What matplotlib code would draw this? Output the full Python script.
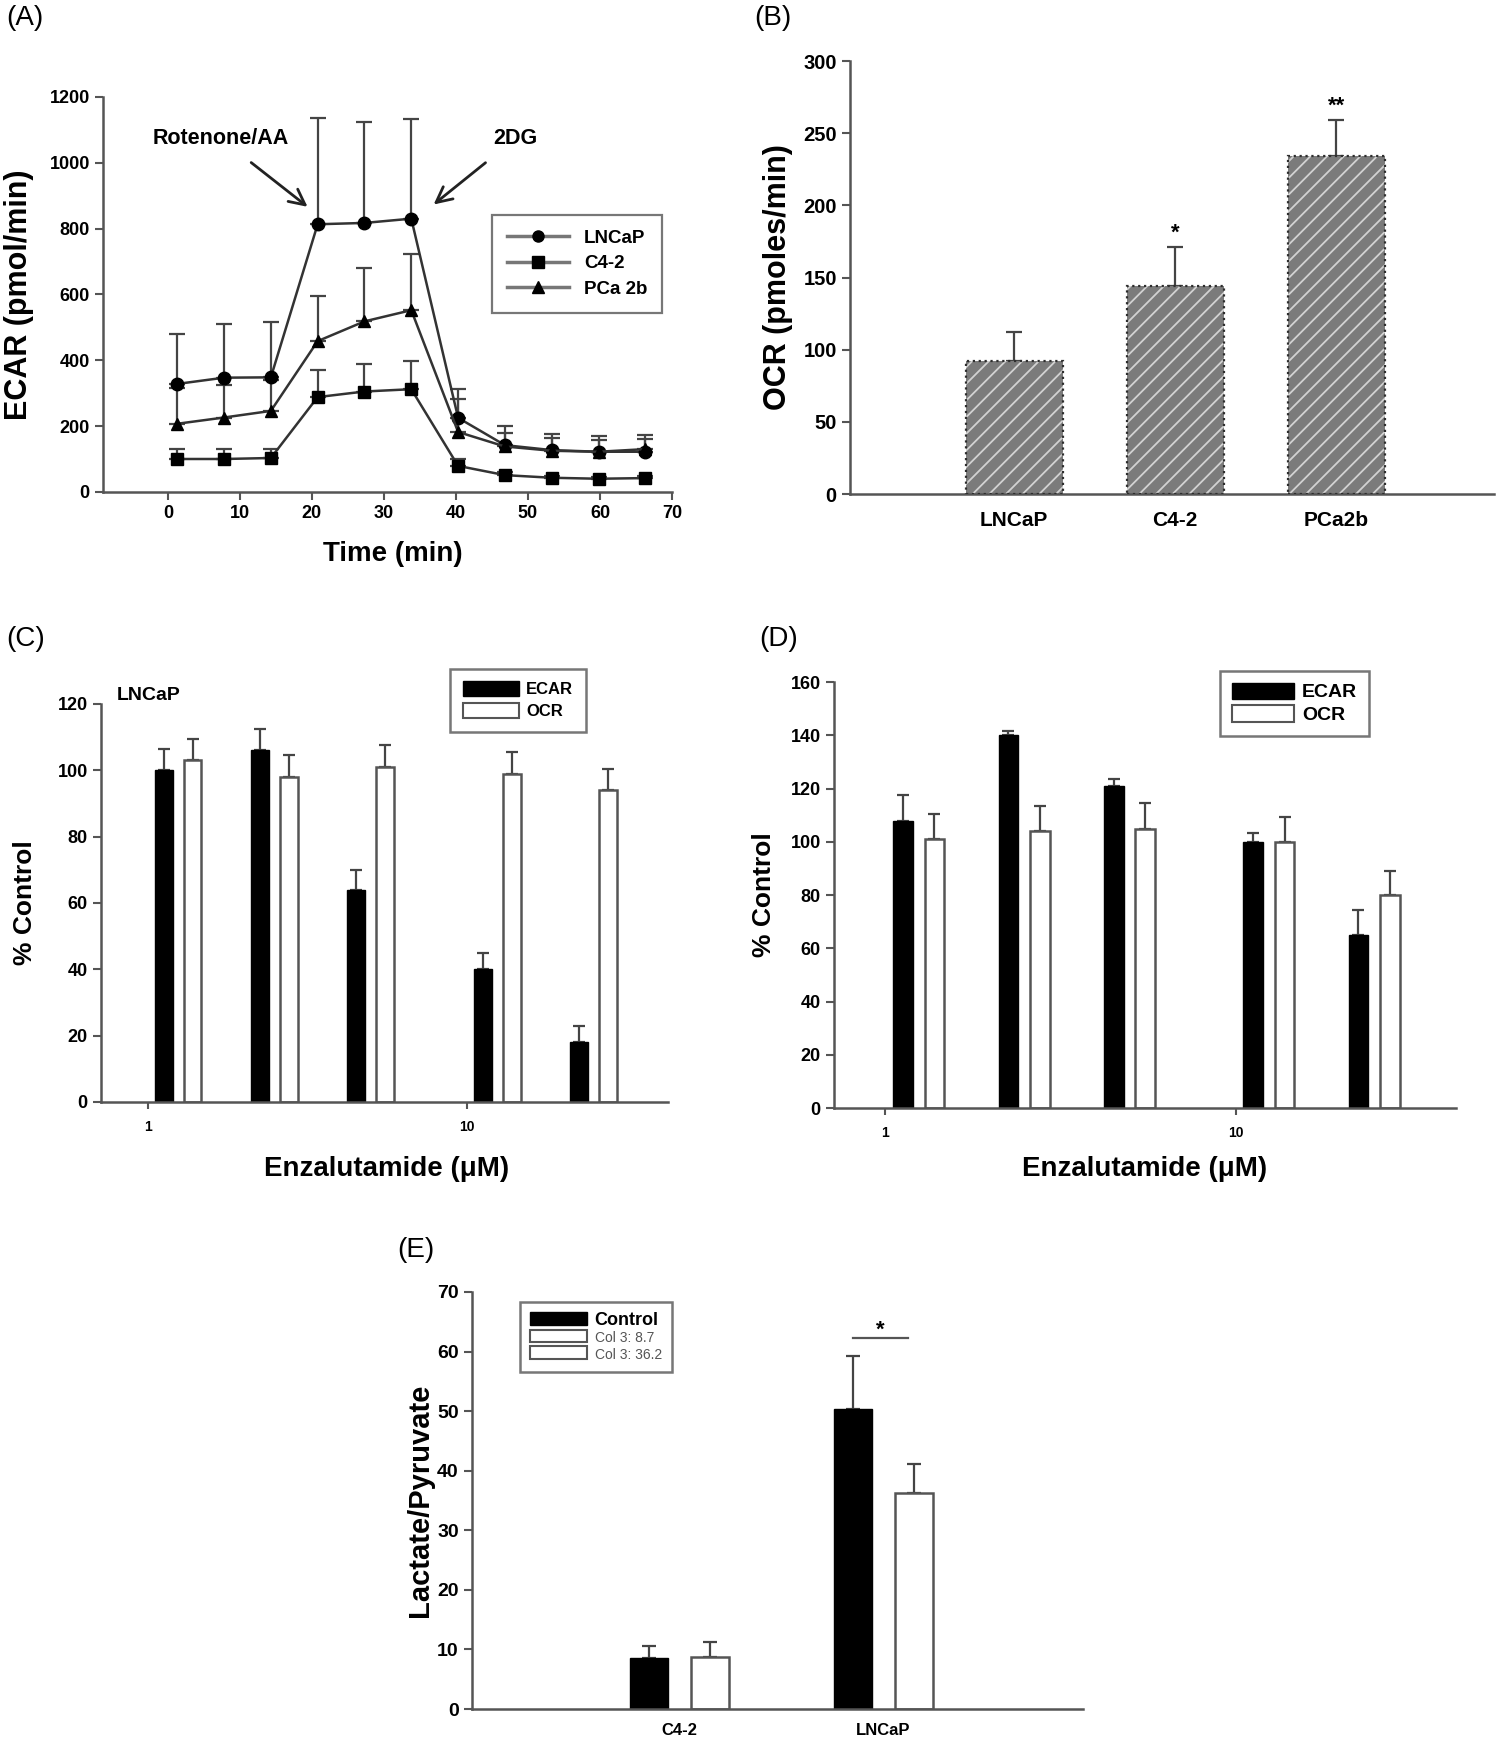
import numpy as np
import matplotlib
matplotlib.use('Agg')
import matplotlib.pyplot as plt
from matplotlib.patches import Patch
from matplotlib.lines import Line2D
from matplotlib.ticker import FixedLocator, NullLocator, FixedFormatter

plt.rcParams['font.family'] = ['Liberation Sans', 'DejaVu Sans']
plt.rcParams['font.weight'] = 'bold'
plt.rcParams['axes.labelweight'] = 'bold'
plt.rcParams['hatch.linewidth'] = 1.3

# ---- (A) ECAR time course ----
time_min = [1.3, 7.8, 14.3, 20.8, 27.3, 33.8, 40.3, 46.8, 53.3, 59.8, 66.3]
ecar_lncap = [328, 347, 348, 813, 817, 830, 225, 142, 127, 122, 122]
ecar_lncap_err = [152, 163, 167, 324, 306, 302, 87, 58, 50, 47, 50]
ecar_c42 = [100, 100, 103, 288, 305, 312, 79, 51, 43, 40, 42]
ecar_c42_err = [30, 30, 28, 82, 83, 87, 22, 8, 6, 6, 6]
ecar_pca = [207, 226, 246, 458, 518, 552, 182, 138, 125, 122, 130]
ecar_pca_err = [110, 100, 95, 137, 162, 170, 100, 40, 40, 35, 32]
a_series = ['LNCaP', 'C4-2', 'PCa 2b']

# ---- (B) OCR ----
ocr_lines = ['LNCaP', 'C4-2', 'PCa2b']
ocr_vals = [92, 144, 234]
ocr_err = [20, 27, 25]
ocr_sig = ['', '*', '**']

# ---- (C)/(D) enzalutamide dose ----
doses = [1, 2, 4, 10, 20]
c_ecar = [100, 106, 64, 40, 18]
c_ecar_err = [6.5, 6.5, 6, 5, 5]
c_ocr = [103, 98, 101, 99, 94]
c_ocr_err = [6.5, 6.5, 6.5, 6.5, 6.5]
d_ecar = [108, 140, 121, 100, 65]
d_ecar_err = [9.5, 1.5, 2.5, 3.5, 9.5]
d_ocr = [101, 104, 105, 100, 80]
d_ocr_err = [9.5, 9.5, 9.5, 9.5, 9]

# ---- (E) lactate / pyruvate ----
e_groups = ['C4-2', 'LNCaP']
e_control = [8.5, 50.3]
e_control_err = [2.0, 9.0]
e_treated = [8.7, 36.2]
e_treated_err = [2.6, 4.9]
e_legend = ['Control', 'Col 3: 8.7', 'Col 3: 36.2']

SPINE = '#555555'
ERR = '#444444'


def style_axes(ax, xticks=True):
    for s in ['top', 'right']:
        ax.spines[s].set_visible(False)
    for s in ['left', 'bottom']:
        ax.spines[s].set_color(SPINE)
        ax.spines[s].set_linewidth(1.8)
    ax.tick_params(axis='both', direction='out', color=SPINE, width=1.5, length=6)
    if not xticks:
        ax.tick_params(axis='x', length=0)


def up_err(ax, x, y, e, cap=5):
    ax.errorbar(x, y, yerr=[np.zeros(len(e)), e], fmt='none', ecolor=ERR,
                elinewidth=1.6, capsize=cap, capthick=1.6, zorder=1)


fig = plt.figure(figsize=(15, 17.45), dpi=100)

# ================= (A) =================
axA = fig.add_axes([0.0687, 0.7181, 0.3793, 0.2264])
style_axes(axA)
markers = ['o', 's', '^']
ys = [ecar_lncap, ecar_c42, ecar_pca]
errs = [ecar_lncap_err, ecar_c42_err, ecar_pca_err]
handles = []
for name, y, e, m in zip(a_series, ys, errs, markers):
    up_err(axA, time_min, y, e, cap=6)
    axA.plot(time_min, y, color='#333333', lw=1.8, marker=m, ms=9,
             mfc='black', mec='black', zorder=3)
    handles.append(Line2D([], [], color='#777777', lw=2.5, marker=m, ms=8,
                          mfc='black', mec='black', label=name))
axA.set_xlim(-9, 70)
axA.set_ylim(0, 1200)
axA.set_xticks(np.arange(0, 71, 10))
axA.set_yticks(np.arange(0, 1201, 200))
axA.tick_params(labelsize=13)
axA.set_ylabel('ECAR (pmol/min)', fontsize=22)
axA.yaxis.set_label_coords(-0.122, 0.5)
axA.set_xlabel('Time (min)', fontsize=20)
axA.xaxis.set_label_coords(0.51, -0.125)
leg = axA.legend(handles=handles, loc='upper left', bbox_to_anchor=(0.684, 0.702),
                 borderaxespad=0, fancybox=False, edgecolor=SPINE, fontsize=13.5,
                 handlelength=3.3, labelspacing=0.45, borderpad=0.8)
leg.get_frame().set_linewidth(1.6)
axA.annotate('Rotenone/AA', xy=(19.4, 866), xytext=(7.4, 1072), fontsize=15.5,
             ha='center', va='center',
             arrowprops=dict(arrowstyle='->', lw=2, color='#222222',
                             mutation_scale=28, shrinkA=12, shrinkB=0))
axA.annotate('2DG', xy=(36.9, 873), xytext=(48.2, 1072), fontsize=15.5,
             ha='center', va='center',
             arrowprops=dict(arrowstyle='->', lw=2, color='#222222',
                             mutation_scale=28, shrinkA=12, shrinkB=0))

# ================= (B) =================
axB = fig.add_axes([0.5667, 0.7169, 0.4293, 0.2481])
style_axes(axB, xticks=False)
xb = np.arange(len(ocr_lines))
axB.bar(xb, ocr_vals, 0.6, color='#7b7b7b', edgecolor='#d2d2d2', hatch='//',
        linewidth=0, zorder=2)
axB.bar(xb, ocr_vals, 0.6, fill=False, edgecolor='#2e2e2e', linewidth=1.6,
        linestyle=':', zorder=3)
up_err(axB, xb, ocr_vals, ocr_err, cap=6)
for xi, v, e, s in zip(xb, ocr_vals, ocr_err, ocr_sig):
    if s:
        axB.text(xi, v + e + 10, s, ha='center', va='center', fontsize=16)
axB.set_xlim(-1.02, 2.98)
axB.set_ylim(0, 300)
axB.set_yticks(np.arange(0, 301, 50))
axB.set_xticks(xb)
axB.set_xticklabels(ocr_lines)
axB.tick_params(axis='y', labelsize=14.5)
axB.tick_params(axis='x', labelsize=15, pad=12)
axB.set_ylabel('OCR (pmoles/min)', fontsize=22)
axB.yaxis.set_label_coords(-0.089, 0.5)


# ================= (C)/(D) =================
def dose_panel(ax, ecar, ecar_err, ocr, ocr_err):
    style_axes(ax)
    d = np.array(doses, dtype=float)
    l1, r1 = d * 10 ** 0.022, d * 10 ** 0.078
    l2, r2 = d * 10 ** 0.112, d * 10 ** 0.168
    ax.bar(l1, ecar, r1 - l1, align='edge', color='black', edgecolor='black',
           linewidth=1, zorder=2)
    ax.bar(l2, ocr, r2 - l2, align='edge', color='white', edgecolor='#555555',
           linewidth=1.8, zorder=2)
    up_err(ax, np.sqrt(l1 * r1), ecar, ecar_err, cap=4.5)
    up_err(ax, np.sqrt(l2 * r2), ocr, ocr_err, cap=4.5)
    ax.set_xscale('log')
    ax.set_xlim(10 ** -0.147, 10 ** 1.63)
    ax.xaxis.set_major_locator(FixedLocator([1, 10]))
    ax.xaxis.set_major_formatter(FixedFormatter(['1', '10']))
    ax.xaxis.set_minor_locator(NullLocator())
    ax.tick_params(axis='x', labelsize=10, length=5, pad=8)
    ax.tick_params(axis='y', labelsize=13)
    ax.set_xlabel('Enzalutamide (\u03bcM)', fontsize=20)
    ax.set_ylabel('% Control', fontsize=19)
    h = [Patch(facecolor='black', edgecolor='black', label='ECAR'),
         Patch(facecolor='white', edgecolor='#555555', linewidth=1.5, label='OCR')]
    return h


axC = fig.add_axes([0.0673, 0.3685, 0.378, 0.2281])
hC = dose_panel(axC, c_ecar, c_ecar_err, c_ocr, c_ocr_err)
axC.set_ylim(0, 120)
axC.set_yticks(np.arange(0, 121, 20))
axC.yaxis.set_label_coords(-0.113, 0.5)
axC.xaxis.set_label_coords(0.504, -0.136)
axC.text(0.027, 1.02, 'LNCaP', transform=axC.transAxes, fontsize=14,
         ha='left', va='center')
legC = axC.legend(handles=hC, loc='upper left', bbox_to_anchor=(0.616, 1.089),
                  borderaxespad=0, fancybox=False, edgecolor=SPINE, fontsize=12,
                  handlelength=3.4, handleheight=1.0, labelspacing=0.35,
                  borderpad=0.75, handletextpad=0.4)
legC.get_frame().set_linewidth(1.8)

axD = fig.add_axes([0.556, 0.3650, 0.4147, 0.2441])
hD = dose_panel(axD, d_ecar, d_ecar_err, d_ocr, d_ocr_err)
axD.set_ylim(0, 160)
axD.set_yticks(np.arange(0, 161, 20))
axD.yaxis.set_label_coords(-0.093, 0.5)
axD.xaxis.set_label_coords(0.50, -0.113)
legD = axD.legend(handles=hD, loc='upper left', bbox_to_anchor=(0.621, 1.026),
                  borderaxespad=0, fancybox=False, edgecolor=SPINE, fontsize=14,
                  handlelength=3.2, handleheight=0.9, labelspacing=0.2,
                  borderpad=0.6, handletextpad=0.4)
legD.get_frame().set_linewidth(1.8)

# ================= (E) =================
axE = fig.add_axes([0.3147, 0.0206, 0.4073, 0.2390])
style_axes(axE, xticks=False)
xe = np.arange(len(e_groups))
bw = 0.186
axE.bar(xe - 0.149, e_control, bw, color='black', edgecolor='black', zorder=2)
axE.bar(xe + 0.149, e_treated, bw, color='white', edgecolor='#555555',
        linewidth=1.8, zorder=2)
up_err(axE, xe - 0.149, e_control, e_control_err, cap=5)
up_err(axE, xe + 0.149, e_treated, e_treated_err, cap=5)
axE.plot([xe[1] - 0.15, xe[1] + 0.12], [62.3, 62.3], color='#555555', lw=1.6)
axE.text(xe[1] - 0.015, 63.6, '*', ha='center', va='center', fontsize=16)
axE.set_xlim(-1.02, 1.98)
axE.set_ylim(0, 70)
axE.set_yticks(np.arange(0, 71, 10))
axE.set_xticks(xe)
axE.set_xticklabels(e_groups)
axE.tick_params(axis='y', labelsize=14)
axE.tick_params(axis='x', labelsize=12, pad=10)
axE.set_ylabel('Lactate/Pyruvate', fontsize=21)
axE.yaxis.set_label_coords(-0.062, 0.5)
hE = [Patch(facecolor='black', edgecolor='black', label=e_legend[0]),
      Patch(facecolor='white', edgecolor='#555555', linewidth=1.5, label=e_legend[1]),
      Patch(facecolor='white', edgecolor='#555555', linewidth=1.5, label=e_legend[2])]
legE = axE.legend(handles=hE, loc='upper left', bbox_to_anchor=(0.078, 0.976),
                  borderaxespad=0, fancybox=False, edgecolor=SPINE, fontsize=13,
                  handlelength=3.2, handleheight=0.7, labelspacing=0.05,
                  borderpad=0.55, handletextpad=0.4)
legE.get_frame().set_linewidth(1.8)
for t in legE.get_texts()[1:]:
    t.set_fontweight('normal')
    t.set_fontsize(10)
    t.set_color('#555555')

# panel letters
for lab, x, y in [('(A)', 0.004, 0.997), ('(B)', 0.503, 0.997), ('(C)', 0.004, 0.641),
                  ('(D)', 0.506, 0.641), ('(E)', 0.265, 0.291)]:
    fig.text(x, y, lab, fontsize=20, fontweight='normal', ha='left', va='top')

fig.savefig('out.png', dpi=100)
